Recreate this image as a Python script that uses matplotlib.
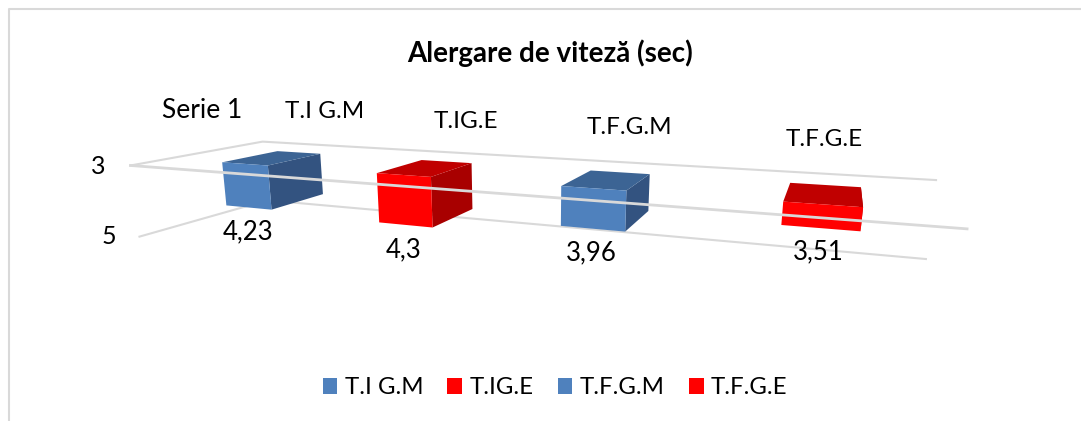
import matplotlib
matplotlib.use('Agg')
import matplotlib.pyplot as plt
from matplotlib.patches import Polygon, Patch
import numpy as np

plt.rcParams['font.family'] = ['Lato', 'DejaVu Sans']

title = 'Alergare de viteză (sec)'
series_name = 'Serie 1'
categories = ['T.I G.M', 'T.IG.E', 'T.F.G.M', 'T.F.G.E']
values = [4.23, 4.3, 3.96, 3.51]
value_labels = ['4,23', '4,3', '3,96', '3,51']
axis_ticks = [3, 5]

BLUE = ('#4f81bd', '#3c6494', '#335380')
RED = ('#ff0000', '#c00000', '#a80000')
bar_colors = [BLUE, RED, BLUE, RED]
GRID = '#d9d9d9'

# where the box of the 3d chart sits on the picture: (category, depth, value) -> pixel
box_world = [(0, 0, 3), (0, 1, 3), (4, 1, 3), (4, 0, 3), (0, 0, 5), (0, 1, 5), (4, 1, 5)]
box_pixel = [(130, 165), (263, 142), (936, 180), (967, 229), (140, 237), (267, 200), (926, 259)]


def fit_camera(world, pixel):
    A, b = [], []
    for (x, y, z), (px, py) in zip(world, pixel):
        A.append([x, y, z, 1, 0, 0, 0, 0, -px * x, -px * y, -px * z])
        A.append([0, 0, 0, 0, x, y, z, 1, -py * x, -py * y, -py * z])
        b += [px, py]
    sol = np.linalg.lstsq(np.array(A, float), np.array(b, float), rcond=None)[0]
    return np.append(sol, 1).reshape(3, 4)


P = fit_camera(box_world, box_pixel)


def project(x, y, z):
    p = P @ np.array([x, y, z, 1.0])
    return p[0] / p[2], p[1] / p[2]


fig = plt.figure(figsize=(10.81, 4.21), dpi=100)
ax = fig.add_axes([0, 0, 1, 1])
ax.set_xlim(0, 1081)
ax.set_ylim(421, 0)
ax.axis('off')

# chart border
ax.plot([9, 9, 1081], [421, 9, 9], color=GRID, lw=1.5, zorder=1)

# walls
for z in axis_ticks:
    pts = [project(0, 0, z), project(0, 1, z), project(4, 1, z)]
    ax.plot(*zip(*pts), color=GRID, lw=1.5, zorder=2)

half = 0.155
d0, d1 = 0.25, 0.69
shift = [0.038, 0.028, 0.019, 0.004]
for i, v in enumerate(values):
    c = i + 0.5 + shift[i]
    l, r = c - half, c + half
    front, top, side = bar_colors[i]
    ax.add_patch(Polygon([project(r, d0, 3), project(r, d1, 3), project(r, d1, v), project(r, d0, v)],
                         fc=side, ec='none', zorder=3))
    ax.add_patch(Polygon([project(l, d0, 3), project(l, d1, 3), project(r, d1, 3), project(r, d0, 3)],
                         fc=top, ec='none', zorder=4))
    ax.add_patch(Polygon([project(l, d0, 3), project(r, d0, 3), project(r, d0, v), project(l, d0, v)],
                         fc=front, ec='none', zorder=5))

# front edge of the floor passes over the bars
ax.plot(*zip(project(0, 0, 3), project(4, 0, 3)), color=GRID, lw=2, zorder=6)

ax.text(550, 53, title, fontsize=20, fontweight='bold', ha='center', va='center')
ax.text(202, 111, series_name, fontsize=19, ha='center', va='center')
ax.text(98, 167, str(axis_ticks[0]), fontsize=18, ha='center', va='center')
ax.text(109, 237, str(axis_ticks[1]), fontsize=18, ha='center', va='center')

cat_x = [325, 466, 629, 824]
cat_y = [111, 121, 128, 140]
lab_x = [248, 404, 591, 818]
lab_y = [232, 250, 253, 252]
for i in range(4):
    ax.text(cat_x[i], cat_y[i], categories[i], fontsize=17.5, ha='center', va='center')
    ax.text(lab_x[i], lab_y[i], value_labels[i], fontsize=18.5, ha='center', va='center', zorder=7)

handles = [Patch(fc=bar_colors[i][0], label=categories[i]) for i in range(4)]
fig.legend(handles=handles, ncol=4, loc='center', bbox_to_anchor=(555 / 1081, 1 - 388 / 421),
           frameon=False, fontsize=17.3, handlelength=0.62, handleheight=0.62,
           handletextpad=0.3, columnspacing=1.0)

fig.savefig('out.png', dpi=100)
